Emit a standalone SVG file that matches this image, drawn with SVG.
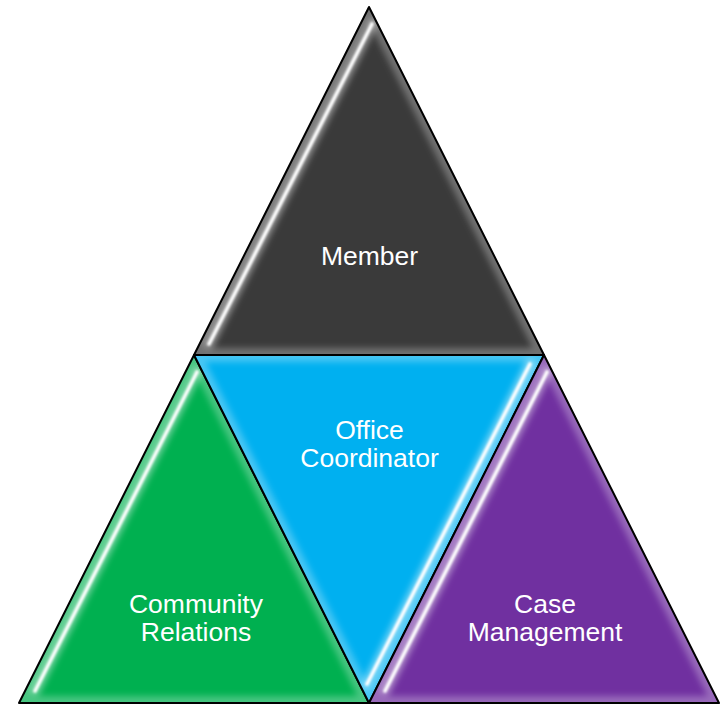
<svg xmlns="http://www.w3.org/2000/svg" width="723" height="705" viewBox="0 0 723 705">
  <style>
    .edge { stroke: #000; stroke-width: 2; stroke-linejoin: round; }
    .rim { fill: none; stroke: #fff; stroke-opacity: 0.28; stroke-width: 14; stroke-linejoin: round; filter: url(#wide); }
    .shine { fill: none; stroke: #fff; stroke-width: 3.6; stroke-linecap: round; filter: url(#soft); }
    .halo { fill: none; stroke: #fff; stroke-opacity: 0.45; stroke-width: 10; stroke-linecap: round; filter: url(#wide); }
    .label { font-family: "Liberation Sans", Arial, sans-serif; font-size: 26.5px; fill: #fff; text-anchor: middle; }
  </style>
  <defs>
    <filter id="soft" x="-10%" y="-10%" width="120%" height="120%">
      <feGaussianBlur stdDeviation="0.9"/>
    </filter>
    <filter id="wide" x="-10%" y="-10%" width="120%" height="120%">
      <feGaussianBlur stdDeviation="3"/>
    </filter>
    <clipPath id="clipTop"><polygon points="369,7 544,355 194,355"/></clipPath>
    <clipPath id="clipLeft"><polygon points="194,355 369,703 19,703"/></clipPath>
    <clipPath id="clipMid"><polygon points="194,355 544,355 369,703"/></clipPath>
    <clipPath id="clipRight"><polygon points="544,355 719,703 369,703"/></clipPath>
  </defs>

  <!-- top: Member -->
  <g id="member">
    <polygon points="369,7 544,355 194,355" fill="#3a3a3a"/>
    <g clip-path="url(#clipTop)">
      <polygon class="rim" points="369,7 544,355 194,355"/>
      <line class="halo" x1="372" y1="24" x2="209" y2="344"/>
      <line class="shine" x1="372" y1="24" x2="209" y2="344"/>
    </g>
    <polygon class="edge" points="369,7 544,355 194,355" fill="none"/>
    <text class="label" x="369.5" y="265">Member</text>
  </g>

  <!-- bottom left: Community Relations -->
  <g id="community-relations">
    <polygon points="194,355 369,703 19,703" fill="#00b050"/>
    <g clip-path="url(#clipLeft)">
      <polygon class="rim" points="194,355 369,703 19,703"/>
      <line class="halo" x1="197" y1="372" x2="35" y2="691"/>
      <line class="shine" x1="197" y1="372" x2="35" y2="691"/>
    </g>
    <polygon class="edge" points="194,355 369,703 19,703" fill="none"/>
    <text class="label" x="196" y="613">Community</text>
    <text class="label" x="196" y="641">Relations</text>
  </g>

  <!-- centre: Office Coordinator -->
  <g id="office-coordinator">
    <polygon points="194,355 544,355 369,703" fill="#00b0f0"/>
    <g clip-path="url(#clipMid)">
      <polygon class="rim" points="194,355 544,355 369,703"/>
      <line class="halo" x1="530" y1="364" x2="367" y2="684"/>
      <line class="shine" x1="530" y1="364" x2="367" y2="684"/>
    </g>
    <polygon class="edge" points="194,355 544,355 369,703" fill="none"/>
    <text class="label" x="369.5" y="439">Office</text>
    <text class="label" x="369.5" y="467">Coordinator</text>
  </g>

  <!-- bottom right: Case Management -->
  <g id="case-management">
    <polygon points="544,355 719,703 369,703" fill="#7030a0"/>
    <g clip-path="url(#clipRight)">
      <polygon class="rim" points="544,355 719,703 369,703"/>
      <line class="halo" x1="547" y1="372" x2="385" y2="691"/>
      <line class="shine" x1="547" y1="372" x2="385" y2="691"/>
    </g>
    <polygon class="edge" points="544,355 719,703 369,703" fill="none"/>
    <text class="label" x="545" y="613">Case</text>
    <text class="label" x="545" y="641">Management</text>
  </g>
</svg>
